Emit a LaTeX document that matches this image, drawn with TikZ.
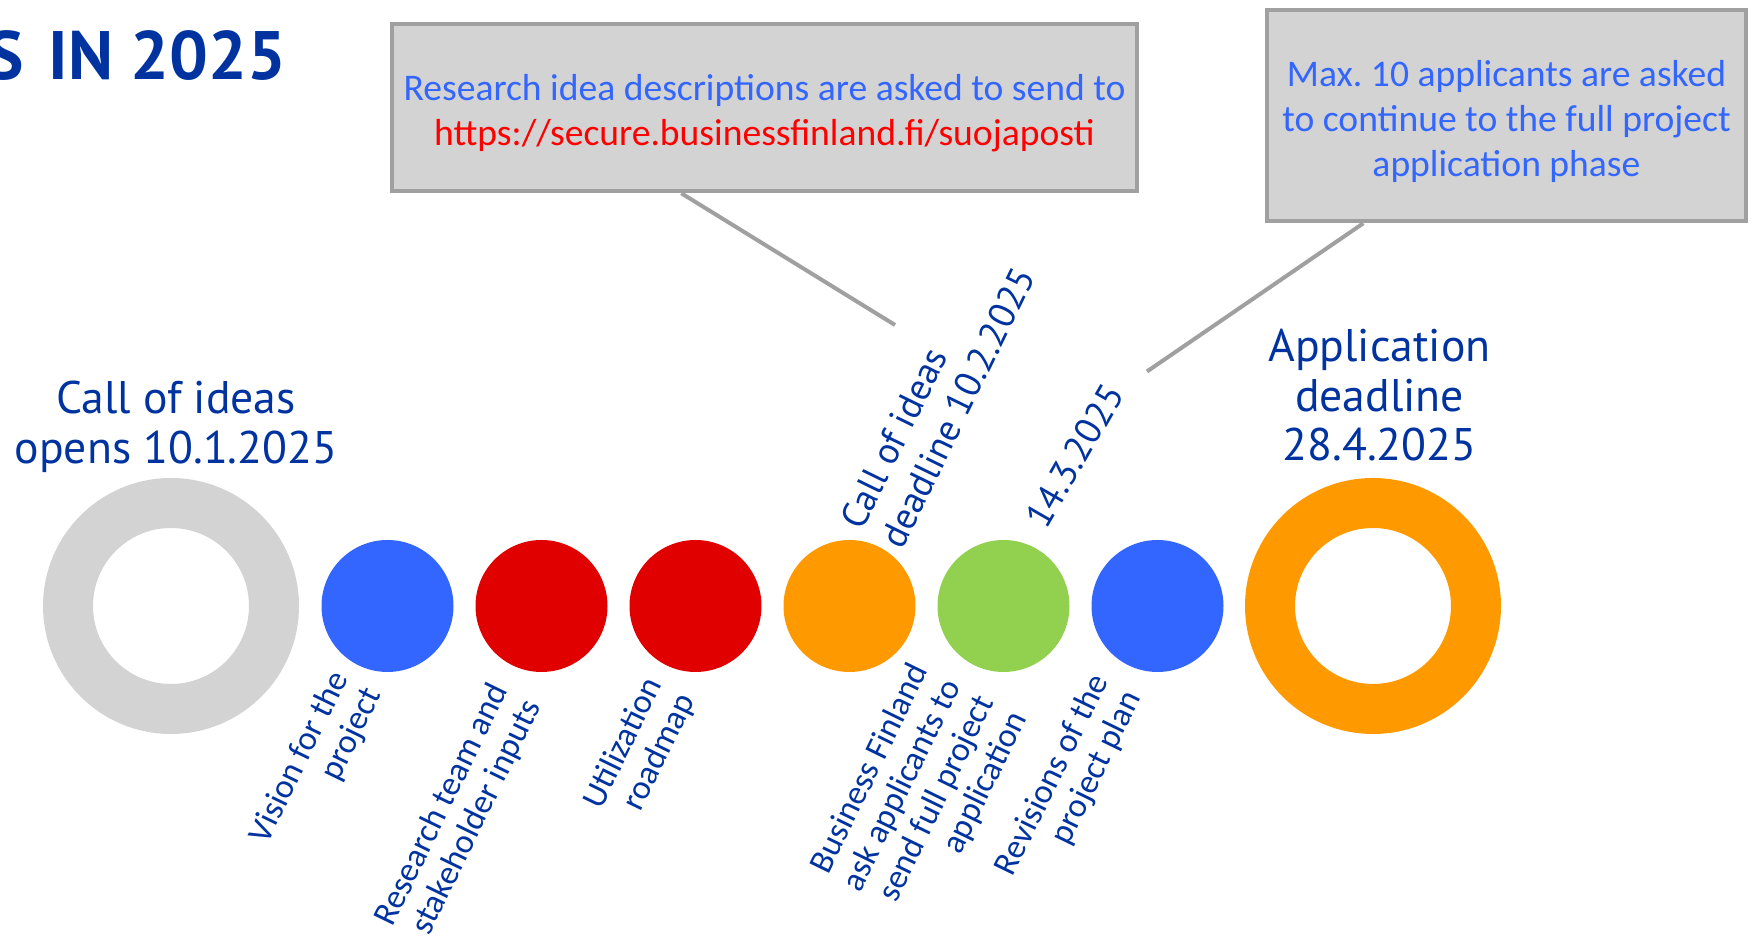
\documentclass[tikz,border=0pt]{standalone}
\usepackage{fontspec}
\setmainfont{Carlito}
\newfontfamily\squarefont{PT Sans}
\usepackage{tikz}
\usetikzlibrary{calc}

\definecolor{ecblue}{HTML}{0033A0}
\definecolor{ringgrey}{HTML}{D3D3D3}
\definecolor{dotblue}{HTML}{3366FF}
\definecolor{dotred}{HTML}{E00000}
\definecolor{dotorange}{HTML}{FF9900}
\definecolor{dotgreen}{HTML}{92D050}
\definecolor{boxgrey}{HTML}{D3D3D3}
\definecolor{edgegrey}{HTML}{A0A0A0}
\definecolor{urlred}{HTML}{FF0000}

\begin{document}
\begin{tikzpicture}[
    ring/.style={circle, draw=#1, line width=0.5cm, minimum size=2.06cm, inner sep=0pt},
    dotnode/.style={circle, fill=#1, minimum size=1.32cm, inner sep=0pt},
    bigdate/.style={text=ecblue, align=center, anchor=north, inner sep=0pt, font=\squarefont\fontsize{13}{14.2}\selectfont},
    topnote/.style={text=ecblue, align=left, rotate=#1, anchor=south west, inner sep=0pt, font=\squarefont\fontsize{10.6}{12.5}\selectfont},
    lownote/.style={text=ecblue, align=right, rotate=64, anchor=north east, inner sep=0pt, font=\fontsize{9.7}{10.4}\selectfont},
    infobox/.style={draw=edgegrey, fill=boxgrey, line width=0.045cm, text=dotblue, align=center, font=\fontsize{10.7}{12.8}\selectfont},
    callout/.style={draw=edgegrey, line width=0.04cm}
  ]
    \useasboundingbox (0,0) rectangle (17.51,9.41);
    \node[anchor=base east, inner sep=0pt, text=ecblue, font=\squarefont\bfseries\fontsize{19.5}{20}\selectfont] (title) at (2.87,8.61) {S\hspace{0.12em} IN 2025};

    % timeline
    \node[ring=ringgrey] (open) at (1.71,3.35) {};
    \node[dotnode=dotblue] (vision) at (3.875,3.35) {};
    \node[dotnode=dotred] (team) at (5.415,3.35) {};
    \node[dotnode=dotred] (roadmap) at (6.955,3.35) {};
    \node[dotnode=dotorange] (ideas) at (8.495,3.35) {};
    \node[dotnode=dotgreen] (invite) at (10.035,3.35) {};
    \node[dotnode=dotblue] (revise) at (11.575,3.35) {};
    \node[ring=dotorange] (deadline) at (13.73,3.35) {};

    \node[bigdate] (openlabel) at (1.76,5.61) {Call of ideas\\opens 10.1.2025};
    \node[bigdate] (deadlinelabel) at (13.795,6.13) {Application\\deadline\\28.4.2025};

    \node[topnote=64] (ideaslabel) at (9.03,3.89) {Call of ideas\\deadline 10.2.2025};
    \node[topnote=60] (invitelabel) at (10.47,4.09) {14.3.2025};

    \node[lownote] (visionlabel) at (3.27,2.74) {Vision for the\\project};
    \node[lownote] (teamlabel) at (4.87,2.62) {Research team and\\stakeholder inputs};
    \node[lownote] (roadmaplabel) at (6.41,2.68) {Utilization\\roadmap};
    \node[lownote] (askinglabel) at (9.07,2.82) {Business Finland\\ask applicants to\\send full project\\application};
    \node[lownote] (reviselabel) at (10.87,2.71) {Revisions of the\\project plan};

    % notes
    \node[infobox, minimum width=7.41cm, minimum height=1.67cm] (sendbox) at (7.645,8.335)
      {\rule{0pt}{1em}Research idea descriptions are asked to send to\\\textcolor{urlred}{https://secure.businessfinland.fi/suojaposti}};
    \node[infobox, minimum width=4.79cm, minimum height=2.11cm] (maxbox) at (15.065,8.255)
      {\rule{0pt}{1em}Max.\ 10 applicants are asked\\to continue to the full project\\application phase};

    \coordinate (sendtip) at (8.95,6.16);
    \coordinate (maxtip) at (11.47,5.695);
    \draw[callout] ($(sendbox.south west)!0.389!(sendbox.south east)$) -- (sendtip);
    \draw[callout] ($(maxbox.south west)!0.204!(maxbox.south east)$) -- (maxtip);
\end{tikzpicture}
\end{document}
